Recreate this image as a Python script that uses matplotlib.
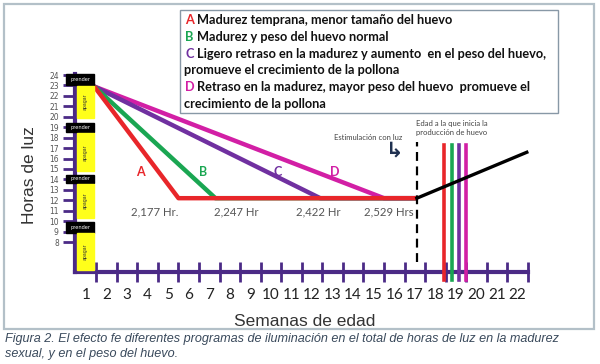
import matplotlib
matplotlib.use("Agg")
from matplotlib import pyplot as plt
from matplotlib.patches import Rectangle

# data
programs = ["A", "B", "C", "D"]
prog_colors = ["#e8262a", "#1aa652", "#7030a0", "#d21fa5"]
start_week, start_hours = 1.4, 22.9
reach_week = [5.5, 7.3, 12.4, 15.5]
plateau_hours = 12.2
stim_week = 17.1
onset_week = [18.42, 18.8, 19.15, 19.5]
after_weeks = [17.1, 22.45]
after_hours = [12.2, 16.6]
totals = ["2,177 Hr.", "2,247 Hr", "2,422 Hr", "2,529 Hrs"]
total_weeks = [4.35, 8.3, 12.3, 15.75]
label_weeks = [3.63, 6.7, 10.35, 13.1]
week_labels = list(range(1, 23))
hour_labels = list(range(8, 25))
on_blocks = [(23.0, 24.1), (18.5, 19.4), (13.7, 14.4), (8.9, 9.9)]
off_blocks = [(19.9, 22.9), (14.8, 18.4), (10.3, 13.6), (5.3, 8.9)]
legend_lines = [
    ("A", "Madurez temprana, menor tamaño del huevo"),
    ("B", "Madurez y peso del huevo normal"),
    ("C", "Ligero retraso en la madurez y aumento  en el peso del huevo,"),
    ("", "promueve el crecimiento de la pollona"),
    ("D", "Retraso en la madurez, mayor peso del huevo  promueve el"),
    ("", "crecimiento de la pollona"),
]

purple = "#4b2a86"
W, H = 600, 364

def fx(x):
    return x / W

def fy(y):
    return 1 - y / H

fig = plt.figure(figsize=(6, 3.64), dpi=100)
fig.patch.set_facecolor("white")
ax = fig.add_axes([0, 0, 1, 1])
ax.set_facecolor("none")
ax.set_xlim(-3.185, 26.012)
ax.set_ylim(-3.682, 31.184)

# outer frame
fig.patches.append(Rectangle((fx(4), fy(329)), fx(590), 325 / H, transform=fig.transFigure,
                             fill=False, edgecolor="#b3c0c8", lw=1.6, zorder=0))

# axes drawn like the original: thick purple spines
for s in ["top", "right"]:
    ax.spines[s].set_visible(False)
ax.spines["left"].set_position(("data", 0.46))
ax.spines["left"].set_bounds(5.1, 24.1)
ax.spines["bottom"].set_position(("data", 5.1))
ax.spines["bottom"].set_bounds(0.46, 22.5)
for s in ["left", "bottom"]:
    ax.spines[s].set_color(purple)
    ax.spines[s].set_linewidth(3)

ax.set_yticks(hour_labels)
ax.set_yticklabels([str(h) for h in hour_labels])
ax.tick_params(axis="y", direction="out", length=8.6, width=2, color=purple,
               labelsize=5.5, labelcolor="#555555", pad=3)
ax.set_xticks(week_labels)
ax.set_xticklabels([str(w) for w in week_labels], fontfamily="Lato")
ax.set_xticks([w + 0.5 for w in week_labels], minor=True)
ax.tick_params(axis="x", which="major", length=0, labelsize=11, labelcolor="#222222", pad=11)
ax.tick_params(axis="x", which="minor", direction="inout", length=14, width=2, color=purple)

# light on / off blocks
for lo, hi in on_blocks:
    ax.add_patch(Rectangle((0.03, lo), 1.36, hi - lo, color="black", zorder=6))
    ax.text(0.71, (lo + hi) / 2, "prender", color="white", fontsize=3.6,
            ha="center", va="center", zorder=7)
for lo, hi in off_blocks:
    ax.add_patch(Rectangle((0.56, lo), 0.83, hi - lo, color="#ffff1a", zorder=6))
    ax.text(0.975, (lo + hi) / 2, "apagar", color="#333333", fontsize=3.4,
            rotation=90, ha="center", va="center", zorder=7)

# lighting programs
for i in range(len(programs)):
    ax.plot([start_week, reach_week[i], stim_week],
            [start_hours, plateau_hours, plateau_hours],
            color=prog_colors[i], lw=3.2, solid_capstyle="butt", zorder=5 - i)
    ax.text(label_weeks[i], 14.75, programs[i], color=prog_colors[i], fontsize=9,
            fontweight="bold", fontfamily="Lato", ha="center", va="center")
    ax.text(total_weeks[i], 10.9, totals[i], color="#555555", fontsize=8.2,
            fontfamily="Lato", ha="center", va="center")
    ax.plot([onset_week[i]] * 2, [4.4, 17.3], color=prog_colors[i], lw=2.6, zorder=5)

ax.plot(after_weeks, after_hours, color="black", lw=2.4, zorder=6)
ax.plot([stim_week] * 2, [6.1, 17.6], color="black", lw=1.6, ls=(0, (4, 2.5)), zorder=5)

ax.text(fx(368), fy(138), "Estimulación con luz", transform=fig.transFigure, fontsize=5.5,
        color="#444444", ha="center", va="center", fontfamily="Lato")
ax.text(fx(395), fy(150), "↳", transform=fig.transFigure, fontsize=15, color="#1f3050",
        fontweight="bold", ha="center", va="center")
ax.text(fx(416), fy(128), "Edad a la que inicia la\nproducción de huevo", transform=fig.transFigure,
        fontsize=5.5, color="#444444", ha="left", va="center", fontfamily="Lato", linespacing=1.3)

# legend box
fig.patches.append(Rectangle((fx(180), fy(113)), fx(378), 103 / H, transform=fig.transFigure,
                             facecolor="white", edgecolor="#8898a6", lw=1, zorder=1))
letter_color = dict(zip(programs, prog_colors))
for j, (letter, rest) in enumerate(legend_lines):
    y = 20 + j * 16.8
    if letter:
        fig.text(fx(185), fy(y), letter, color=letter_color[letter], fontsize=9.2,
                 fontweight="bold", fontfamily="Lato", va="center")
        fig.text(fx(197), fy(y), rest, color="#111111", fontsize=9.2,
                 fontweight="bold", fontfamily="Lato", va="center")
    else:
        fig.text(fx(184), fy(y), rest, color="#111111", fontsize=9.2,
                 fontweight="bold", fontfamily="Lato", va="center")

fig.text(fx(30), fy(175), "Horas de luz", rotation=90, fontsize=12.5, color="#333333",
         ha="center", va="center", fontfamily="Liberation Sans")
fig.text(fx(305), fy(321), "Semanas de edad", fontsize=12.5, color="#333333",
         ha="center", va="center", fontfamily="Liberation Sans")

fig.text(fx(5), fy(339), "Figura 2. El efecto fe diferentes programas de iluminación en el total de horas de luz en la madurez",
         fontsize=9.1, style="italic", color="#3a4a5c", va="center", fontfamily="Liberation Sans")
fig.text(fx(5), fy(354), "sexual, y en el peso del huevo.",
         fontsize=9.1, style="italic", color="#3a4a5c", va="center", fontfamily="Liberation Sans")

fig.savefig("out.png", dpi=100)
